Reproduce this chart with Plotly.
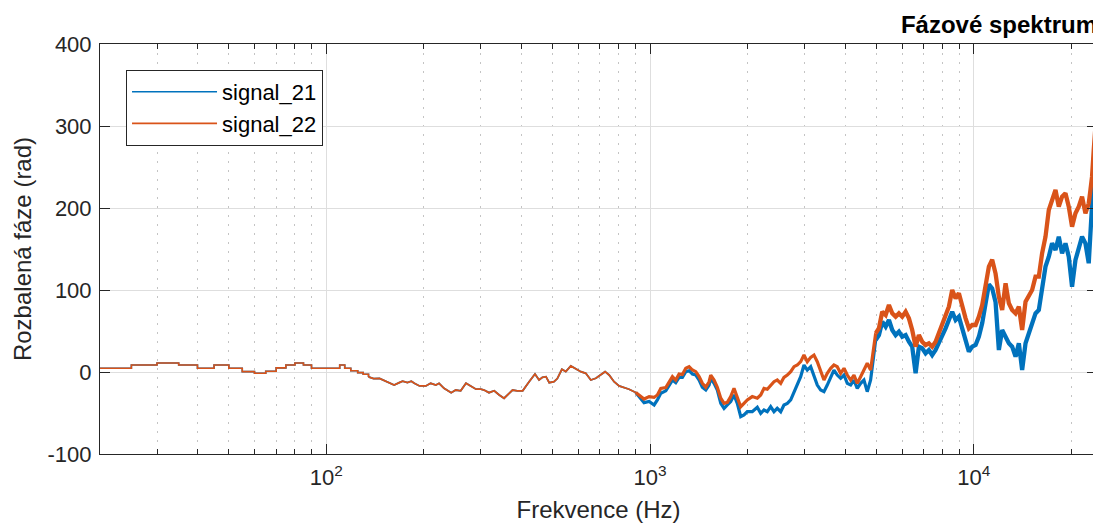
import math
import plotly.graph_objects as go

# ---------------- data ----------------
# Common part (both signals coincide below ~900 Hz)
freq_common = [20, 25, 30, 35, 40, 45, 50, 55, 60, 65,
               70, 75, 80, 85, 90, 110, 114, 119, 125, 130,
               135, 140, 146, 151, 156, 162, 168, 172, 178, 183,
               187, 194, 203, 210, 218, 223, 231, 243, 251, 260,
               270, 280, 290, 300, 307, 318, 330, 342, 354, 367,
               376, 389, 404, 423, 441, 454, 465, 477, 488, 505,
               517, 534, 549, 569, 590, 611, 633, 656, 680, 704,
               726, 747, 774, 802, 831, 861, 903]
phase_common = [4.5, 8.5, 11, 8.5, 4.5, 8.5, 4.5, 0.5, -1.5, 1,
                5, 8.5, 11, 8.5, 4.5, 8.5, 4.5, 1.6, -0.8, -2.8,
                -6, -8, -7.7, -10.6, -13, -15.9, -13, -11.2, -13, -11.2,
                -13.8, -17, -17, -13.8, -15.9, -13.8, -19.9, -25.2, -22, -23,
                -13.8, -17, -21, -21, -22, -25.2, -22.8, -28, -32, -26,
                -22, -23, -23, -11.8, -2.4, -9.8, -6.5, -5.7, -13, -11.8,
                -8, 3.3, 0.5, 7.3, 3.3, 0.4, -1.6, -9.8, -7.7, -3.6,
                0.4, -3.6, -11.8, -17, -18.7, -21, -25]
step_end_hz = 135  # below this the spectrum shows clear 5 Hz stair steps

# Upper band (signals differ)
freq_high = [936, 958, 993, 1029, 1053, 1079, 1118, 1145, 1172, 1200,
             1229, 1258, 1289, 1320, 1351, 1384, 1417, 1450, 1486, 1521,
             1539, 1576, 1613, 1653, 1692, 1732, 1774, 1816, 1859, 1905,
             1950, 1996, 2068, 2143, 2196, 2248, 2301, 2357, 2413, 2470,
             2531, 2591, 2653, 2718, 2783, 2849, 2918, 2987, 3058, 3133,
             3207, 3283, 3364, 3443, 3525, 3611, 3696, 3784, 3877, 3970,
             4064, 4163, 4262, 4363, 4469, 4575, 4684, 4798, 4853, 4974,
             5090, 5211, 5339, 5465, 5595, 5732, 5868, 6007, 6154, 6300,
             6449, 6607, 6763, 6924, 7093, 7261, 7433, 7615, 7796, 7981,
             8176, 8370, 8571, 8780, 8988, 9202, 9427, 9650, 9880, 10122,
             10362, 10608, 10867, 11125, 11389, 11667, 11944, 12227, 12526, 12823,
             13127, 13448, 13767, 14093, 14437, 14779, 15130, 15499, 15867, 16243,
             16640, 17035, 17439, 17865, 18289, 18722, 19180, 19635, 20100, 20591,
             21079, 21579, 22106, 22630, 22905, 23166, 23448, 23733, 24000]
wide_band_hz = 4974  # above this the noisy band in the picture gets wider

phase_22_high = [-30, -33, -30, -31, -28, -20, -19, -11.8, -5.7, -9.8,
                 -2.4, -3, 4.5, 6.5, 2.4, 0.4, -5.7, -13.8, -18.7, -11.8,
                 -3.7, -9.8, -18.7, -32, -38.2, -37, -30, -20, -30, -42.3,
                 -38.2, -34.1, -30, -32, -28, -20, -21, -15.9, -11.8, -9.8,
                 -13.8, -6.5, -3.7, 0.4, 6.5, 8.5, 12.6, 20.7, 12.6, 17.9,
                 20.7, 12.6, 0.4, -9.8, -1.6, 4.5, 8.5, 6.5, -1.6, 4.5,
                 -3.7, -9.8, -3.7, -13.8, -5.7, 2.4, 10.6, 2.4, 16.7, 47.2,
                 53.3, 73.5, 69.5, 81.7, 71.5, 67.5, 71.5, 67.5, 73.5, 65.4,
                 51.2, 30.9, 45.1, 37, 32.9, 35, 30.9, 37, 47.2, 59.3,
                 67.5, 79.7, 100, 89.8, 96, 79.7, 65.4, 53.3, 57.3, 57.3,
                 67.5, 81.7, 108.2, 128.5, 137, 120, 91.8, 75.6, 108.2, 83.8,
                 75.6, 71.5, 79.7, 51.2, 85.8, 91.8, 100, 116.3, 116.3, 144.7,
                 165, 197.6, 209.8, 222, 201.6, 213.8, 217.9, 201.6, 177.2, 193.5,
                 201.6, 213.8, 193.5, 205.7, 222, 238.2, 270.7, 299.2, 305]

phase_21_high = [-32, -37.4, -36, -40.2, -34, -26, -23, -15.9, -9.8, -13,
                 -6.5, -6.5, 0.4, 1.6, -2.4, -3.7, -9.8, -18.7, -22, -15.9,
                 -7.7, -13.8, -22, -38.2, -44.3, -40.2, -36, -28, -38.2, -54.5,
                 -52.4, -48.4, -48.4, -43, -50.4, -46.3, -48.4, -42.3, -48.4, -44.3,
                 -48.4, -40.2, -38.2, -34, -24, -15.9, -5.7, 8.5, 2.4, 6.5,
                 -5.7, -15.9, -22, -24, -15.9, -5.7, 2.4, -3.7, -7.7, -3.7,
                 -13.8, -15.9, -9.8, -20, -13.8, -9.8, -24, -9.8, 6.5, 39,
                 45.1, 61.4, 55.3, 63.4, 51.2, 45.1, 49.2, 43.1, 45.1, 37,
                 30.9, -1.6, 30.9, 28.9, 22.8, 26.8, 20.7, 26.8, 35, 45.1,
                 53.3, 63.4, 73.5, 63.4, 67.5, 53.3, 39, 24.8, 30.9, 32.9,
                 43.1, 59.3, 83.8, 107, 102, 85, 26.8, 51.2, 43.1, 35,
                 30.9, 18.7, 35, 2.4, 35, 47.2, 59.3, 71.5, 75.6, 100,
                 128.5, 140.6, 156.9, 148.8, 165, 144.7, 156.9, 140.6, 104, 136.6,
                 152.8, 165, 156.9, 132.6, 169.1, 205.7, 238.2, 258.5, 265]

series_names = ["signal_21", "signal_22"]
x_tick_vals = [100, 1000, 10000]
x_tick_text = ["10<sup>2</sup>", "10<sup>3</sup>", "10<sup>4</sup>"]
y_tick_vals = [-100, 0, 100, 200, 300, 400]
y_tick_text = ["-100", "0", "100", "200", "300", "400"]
f_min, f_max = 20, 24000
y_min, y_max = -100, 400

# ---------------- styling ----------------
BLUE = "#0072BD"
ORANGE = "#D95319"
AXC = "#262626"
FONT = "Liberation Sans, Arial, Helvetica, sans-serif"
# page body has an 8px default margin -> figure is drawn from (8, 8)
FIG_W, FIG_H = 1093, 516

minor_vals = [m * 10 ** k for k in range(1, 5) for m in range(2, 10)
              if f_min <= m * 10 ** k <= f_max]

k_step = freq_common.index(step_end_hz)
k_wide = freq_high.index(wide_band_hz)

fig = go.Figure()
for name, color, hi in [(series_names[0], BLUE, phase_21_high),
                        (series_names[1], ORANGE, phase_22_high)]:
    # low-frequency stair steps
    fig.add_trace(go.Scatter(
        x=freq_common[:k_step + 1], y=phase_common[:k_step + 1], mode="lines",
        name=name, legendgroup=name,
        line=dict(color=color, width=1.6, shape="hv")))
    # mid band
    fig.add_trace(go.Scatter(
        x=freq_common[k_step:], y=phase_common[k_step:], mode="lines",
        name=name, legendgroup=name, showlegend=False,
        line=dict(color=color, width=1.8)))
    # 0.9 - 5 kHz noisy band
    fig.add_trace(go.Scatter(
        x=[freq_common[-1]] + freq_high[:k_wide + 1],
        y=[phase_common[-1]] + hi[:k_wide + 1],
        mode="lines", name=name, legendgroup=name, showlegend=False,
        line=dict(color=color, width=3.2)))
    # > 5 kHz wider noisy band
    fig.add_trace(go.Scatter(
        x=freq_high[k_wide:], y=hi[k_wide:],
        mode="lines", name=name, legendgroup=name, showlegend=False,
        line=dict(color=color, width=4.3)))

fig.update_layout(
    width=FIG_W, height=FIG_H,
    margin=dict(l=92, r=4, t=36, b=70, autoexpand=False),
    paper_bgcolor="white", plot_bgcolor="white",
    font=dict(family=FONT, color=AXC),
    title=dict(text="<b>Fázové spektrum</b>", x=1, xref="paper", xanchor="right",
               y=1 - 17 / FIG_H, yref="container", yanchor="middle",
               font=dict(size=24, color="#000000", family=FONT)),
    legend=dict(x=0.0261, y=0.9366, xanchor="left", yanchor="top",
                bordercolor=AXC, borderwidth=1, bgcolor="white",
                font=dict(size=22, color="#000000", family=FONT),
                itemwidth=85, tracegroupgap=0),
    showlegend=True,
)

fig.update_xaxes(
    type="log", range=[math.log10(f_min), math.log10(f_max)],
    tickvals=x_tick_vals, ticktext=x_tick_text,
    ticks="inside", ticklen=10, tickwidth=1, tickcolor=AXC,
    showline=True, linecolor=AXC, linewidth=1, mirror="ticks",
    showgrid=True, gridcolor="#dedede", gridwidth=1, zeroline=False,
    tickfont=dict(size=22, color=AXC), ticklabelstandoff=4,
    title=dict(text="Frekvence (Hz)", font=dict(size=24, color=AXC), standoff=11),
    automargin=False,
    minor=dict(tickvals=minor_vals, ticks="inside", ticklen=5, tickcolor=AXC,
               showgrid=True, gridcolor="#c4c4c4", griddash="2px,7px", gridwidth=1),
)
fig.update_yaxes(
    range=[y_min, y_max], tickvals=y_tick_vals, ticktext=y_tick_text,
    ticks="inside", ticklen=10, tickwidth=1, tickcolor=AXC,
    showline=True, linecolor=AXC, linewidth=1, mirror="ticks",
    showgrid=True, gridcolor="#dedede", gridwidth=1, zeroline=False,
    tickfont=dict(size=22, color=AXC), ticklabelstandoff=3,
    title=dict(text="Rozbalená fáze (rad)", font=dict(size=24, color=AXC), standoff=9),
    automargin=False,
)

fig.write_html("out.html")
